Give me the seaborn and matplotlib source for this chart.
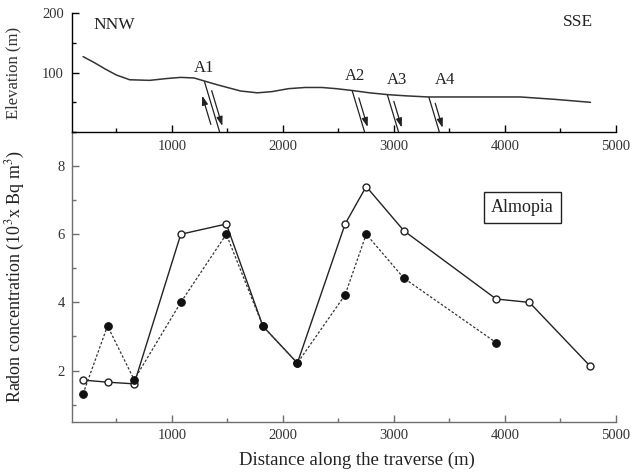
import matplotlib
matplotlib.use("Agg")
import matplotlib.pyplot as plt
import matplotlib.transforms as mtransforms
from matplotlib.ticker import MultipleLocator
import seaborn as sns

# Radon concentration along the traverse (10^3 Bq m^-3)
distance_open = [200, 420, 660, 1080, 1490, 1820, 2130, 2560, 2750, 3090, 3920, 4220, 4770]
radon_open = [1.72, 1.66, 1.61, 6.0, 6.3, 3.3, 2.22, 6.3, 7.4, 6.1, 4.1, 4.0, 2.12]
distance_filled = [200, 420, 660, 1080, 1490, 1820, 2130, 2560, 2750, 3090, 3920]
radon_filled = [1.32, 3.31, 1.73, 4.0, 6.0, 3.3, 2.22, 4.22, 6.0, 4.71, 2.82]

# Topographic profile (m)
profile_distance = [200, 300, 400, 500, 620, 800, 950, 1080, 1200, 1290, 1400, 1500,
                    1620, 1770, 1900, 2050, 2200, 2350, 2480, 2620, 2780, 2940,
                    3100, 3310, 3550, 3780, 4140, 4450, 4770]
profile_elevation = [127, 117, 106, 96, 88, 87, 90, 92, 91, 86, 80, 75,
                     69, 66, 68, 73, 75, 75, 73, 70, 66, 63,
                     61, 59, 59, 59, 59, 55, 50]

# Faults crossing the traverse
fault_names = ["A1", "A2", "A3", "A4"]
fault_distance = [1293, 2623, 2940, 3314]
fault_elevation = [85, 70, 63, 59]
fault_label_distance = [1287, 2653, 3029, 3464]
fault_label_elevation = [108, 94, 87, 87]
fault_dip_run = 1.61  # horizontal metres per metre of depth

sns.set_theme(style="ticks")
plt.rcParams["font.family"] = ["Liberation Serif", "DejaVu Serif"]
plt.rcParams["mathtext.fontset"] = "stix"

fig = plt.figure(figsize=(6.32, 4.76), dpi=100)
ax_bot = fig.add_axes([0.1139, 0.1141, 0.8608, 0.6086])
ax_top = fig.add_axes([0.1139, 0.7227, 0.8608, 0.2494])
ax_bot.patch.set_visible(False)
ax_top.patch.set_visible(False)
ax_top.set_zorder(3)

grey = "#6e6e6e"
tick_font = 10.5

# ---- elevation profile ----
sns.lineplot(x=profile_distance, y=profile_elevation, ax=ax_top, color="#333333",
             linewidth=1.1, sort=False)
ax_top.set_xlim(100, 5000)
ax_top.set_ylim(0, 200)
ax_top.xaxis.set_major_locator(MultipleLocator(1000))
ax_top.xaxis.set_minor_locator(MultipleLocator(500))
ax_top.set_yticks([100, 200])
ax_top.yaxis.set_minor_locator(MultipleLocator(50))
for side in ("top", "right"):
    ax_top.spines[side].set_visible(False)
for side in ("left", "bottom"):
    ax_top.spines[side].set_color("black")
    ax_top.spines[side].set_linewidth(1.0)
ax_top.tick_params(which="both", direction="in", labelsize=tick_font, color="black",
                   width=1.0, pad=6, labelcolor="#333333")
ax_top.tick_params(which="major", length=5)
ax_top.tick_params(which="minor", length=3)
ax_top.set_ylabel("Elevation (m)", fontsize=12, color="#333333")
ax_top.yaxis.set_label_coords(-0.093, 0.5)
ax_top.set_xlabel("")

ax_top.text(295, 181, "NNW", fontsize=12.5, ha="left", va="center", color="#222222")
ax_top.text(4656, 186, "SSE", fontsize=12.5, ha="center", va="center", color="#222222")

right_off = mtransforms.offset_copy(ax_top.transData, fig=fig, x=4.5, y=0, units="dots")
left_off = mtransforms.offset_copy(ax_top.transData, fig=fig, x=-6.5, y=0, units="dots")
arrow_kw = dict(arrowstyle="-|>,head_length=0.45,head_width=0.15", color="#222222",
                lw=0.9, shrinkA=0, shrinkB=0)

for i, name in enumerate(fault_names):
    x0, e0 = fault_distance[i], fault_elevation[i]
    x1 = x0 + fault_dip_run * e0
    ax_top.plot([x0, x1], [e0, 0], color="#222222", lw=0.9, solid_capstyle="butt")

    def along(f):
        return x0 + (x1 - x0) * f, e0 * (1 - f)

    start, end = along(0.18), along(0.88)
    ax_top.annotate("", xy=end, xytext=start, xycoords=right_off,
                    textcoords=right_off, arrowprops=arrow_kw)
    if i == 0:
        s2, e2 = along(0.85), along(0.28)
        ax_top.annotate("", xy=e2, xytext=s2, xycoords=left_off,
                        textcoords=left_off, arrowprops=arrow_kw)
    ax_top.text(fault_label_distance[i], fault_label_elevation[i], name, fontsize=12,
                ha="center", va="center", color="#222222")

# ---- radon concentration ----
sns.lineplot(x=distance_open, y=radon_open, ax=ax_bot, color="#222222", linewidth=1.0,
             marker="o", markersize=5, markerfacecolor="white",
             markeredgecolor="#222222", markeredgewidth=1.0, zorder=2)
sns.lineplot(x=distance_filled, y=radon_filled, ax=ax_bot, color="#333333",
             linewidth=0.9, linestyle=(0, (2, 1.5)), marker="o", markersize=5.5,
             markerfacecolor="#111111", markeredgecolor="#111111", zorder=3)

ax_bot.set_xlim(100, 5000)
ax_bot.set_ylim(0.5, 9)
ax_bot.xaxis.set_major_locator(MultipleLocator(1000))
ax_bot.xaxis.set_minor_locator(MultipleLocator(500))
ax_bot.yaxis.set_major_locator(MultipleLocator(2))
ax_bot.yaxis.set_minor_locator(MultipleLocator(1))
for side in ("top", "right"):
    ax_bot.spines[side].set_visible(False)
for side in ("left", "bottom"):
    ax_bot.spines[side].set_color(grey)
    ax_bot.spines[side].set_linewidth(1.0)
ax_bot.tick_params(which="both", direction="in", labelsize=tick_font, color=grey,
                   width=1.0, pad=5, labelcolor="#333333")
ax_bot.tick_params(which="major", length=5)
ax_bot.tick_params(which="minor", length=3)

ax_bot.set_xlabel("Distance along the traverse (m)", fontsize=13.5, color="#222222")
ax_bot.xaxis.set_label_coords(0.524, -0.105)
ax_bot.set_ylabel(r"Radon concentration (10$^3$x Bq m$^3$)", fontsize=13,
                  color="#222222")
ax_bot.yaxis.set_label_coords(-0.083, 0.5)

ax_bot.text(4158, 6.78, "Almopia", fontsize=13, ha="center", va="center",
            color="#222222",
            bbox=dict(boxstyle="square,pad=0.4", facecolor="white",
                      edgecolor="#222222", linewidth=1.0))

fig.savefig("out.png", dpi=100)
